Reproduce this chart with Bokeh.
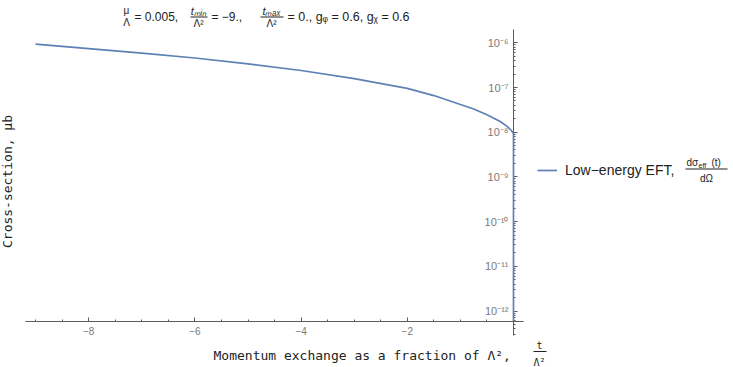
import numpy as np
from bokeh.plotting import figure
from bokeh.models import Range1d, FixedTicker, CustomJSTickFormatter, Label, BoxAnnotation
from bokeh.embed import file_html
from bokeh.resources import INLINE

# ---------------- data ----------------
t_values = [-9.0, -8.0, -7.0, -6.0, -5.0, -4.0, -3.0, -2.0, -1.5, -1.0, -0.75,
            -0.5, -0.25, -0.12, -0.05, 0.0, 0.0]
sigma_values = [9.33e-7, 7.41e-7, 5.89e-7, 4.57e-7, 3.39e-7, 2.40e-7, 1.58e-7,
                9.55e-8, 6.6e-8, 4.17e-8, 3.31e-8, 2.45e-8, 1.74e-8, 1.35e-8,
                1.12e-8, 9.3e-9, 6.0e-13]

x_tick_values = [-8, -6, -4, -2]
x_tick_labels = ["\u22128", "\u22126", "\u22124", "\u22122"]
x_minor_values = [-9.0, -8.5, -7.5, -7.0, -6.5, -5.5, -5.0, -4.5, -3.5, -3.0,
                  -2.5, -1.5, -1.0, -0.5]
y_tick_values = [1e-12, 1e-11, 1e-10, 1e-9, 1e-8, 1e-7, 1e-6]
y_tick_labels = ["10\u207b\u00b9\u00b2", "10\u207b\u00b9\u00b9", "10\u207b\u00b9\u2070",
                 "10\u207b\u2079", "10\u207b\u2078", "10\u207b\u2077", "10\u207b\u2076"]

series_label = "Low\u2212energy EFT,"

# ---------------- layout (pixels of the 733x367 canvas) ----------------
W, H = 733, 367
X0_PX, PX_PER_UNIT = 513.0, 53.1          # pixel of t = 0, pixels per unit t
Y6_PX, PX_PER_DEC = 42.3, 44.7            # pixel of 1e-6, pixels per decade


def t_at(px):
    return (px - X0_PX) / PX_PER_UNIT


def s_at(py):
    return 10 ** (-6 - (py - Y6_PX) / PX_PER_DEC)


y_lo, y_hi = s_at(335), s_at(29.3)
y_minor_values = [m * 10.0 ** k for k in range(-13, -5) for m in range(2, 10)
                  if y_lo <= m * 10.0 ** k <= y_hi]

p = figure(width=W, height=H, output_backend="svg", toolbar_location=None,
           y_axis_type="log",
           x_range=Range1d(t_at(0), t_at(W)), y_range=Range1d(s_at(H), s_at(0)),
           min_border_left=0, min_border_right=0, min_border_top=0,
           min_border_bottom=0)
p.title.visible = False
p.grid.visible = False
p.outline_line_color = None
p.background_fill_color = "white"
p.border_fill_color = "white"

AXC = "#5c5c5c"
TLC = "#7a7a7a"

xa = p.xaxis[0]
xa.fixed_location = s_at(320.5)
xa.bounds = (t_at(25), t_at(523))
xa.ticker = FixedTicker(ticks=x_tick_values, minor_ticks=x_minor_values)
xa.formatter = CustomJSTickFormatter(
    args=dict(vals=x_tick_values, labs=x_tick_labels),
    code="const i = vals.findIndex(v => Math.abs(v - tick) < 1e-9); return i < 0 ? '' : labs[i];")
xa.major_tick_in = 4
xa.major_tick_out = 0
xa.minor_tick_in = 2
xa.minor_tick_out = 0
xa.axis_line_color = AXC
xa.major_tick_line_color = AXC
xa.minor_tick_line_color = AXC
xa.major_label_standoff = 6
xa.major_label_text_font = "Liberation Sans"
xa.major_label_text_font_size = "10px"
xa.major_label_text_color = TLC

ya = p.yaxis[0]
ya.fixed_location = 0
ya.bounds = (y_lo, y_hi)
ya.ticker = FixedTicker(ticks=y_tick_values, minor_ticks=y_minor_values)
ya.formatter = CustomJSTickFormatter(
    args=dict(vals=y_tick_values, labs=y_tick_labels),
    code="const i = vals.findIndex(v => Math.abs(Math.log10(v) - Math.log10(tick)) < 1e-6); return i < 0 ? '' : labs[i];")
ya.major_tick_in = 4
ya.major_tick_out = 0
ya.minor_tick_in = 2
ya.minor_tick_out = 0
ya.axis_line_color = AXC
ya.major_tick_line_color = AXC
ya.minor_tick_line_color = AXC
ya.major_label_standoff = 5
ya.major_label_text_font = "Liberation Sans"
ya.major_label_text_font_size = "11px"
ya.major_label_text_color = TLC

r = p.line(t_values, sigma_values, line_color="#5E81B5", line_width=1.7,
           legend_label=series_label)
r.level = "overlay"

lg = p.legend[0]
lg.location = (537, H - 178)
lg.padding = 0
lg.margin = 0
lg.spacing = 0
lg.border_line_color = None
lg.background_fill_alpha = 0
lg.glyph_width = 20
lg.glyph_height = 16
lg.label_height = 16
lg.label_standoff = 8
lg.label_text_font = "Liberation Sans"
lg.label_text_font_size = "14px"
lg.label_text_color = "#222222"


def txt(X, Y, s, size="12px", font="Liberation Sans", align="left", style="normal",
        color="#222222", angle=0.0):
    p.add_layout(Label(x=X, y=H - Y, x_units="screen", y_units="screen", text=s,
                       text_font=font, text_font_size=size, text_align=align,
                       text_baseline="middle", text_font_style=style,
                       text_color=color, angle=angle))


def bar(Xa, Xb, Y):
    p.add_layout(BoxAnnotation(left=Xa, right=Xb, top=H - Y + 0.5,
                               bottom=H - Y - 0.5, left_units="screen",
                               right_units="screen", top_units="screen",
                               bottom_units="screen", fill_color="#222222",
                               fill_alpha=1, line_color=None))


# title (plot label)
txt(126, 10, "\u03bc", size="10px", align="center")
txt(126, 22, "\u039b", size="10px", align="center")
txt(134, 16, "= 0.005,")
txt(198, 10, "t\u2098\u1d62\u2099", size="11px", align="center", style="italic")
bar(190, 207, 16.5)
txt(198, 23, "\u039b\u00b2", size="10px", align="center")
txt(211, 16, "= \u22129.,")
txt(271, 10, "t\u2098\u2090\u2093", size="11px", align="center", style="italic")
bar(260, 283, 16.5)
txt(271, 23, "\u039b\u00b2", size="10px", align="center")
txt(287, 16, "= 0., g\u1d69 = 0.6, g\u1d6a = 0.6", size="12.5px")

# axis labels
txt(213, 355, "Momentum exchange as a fraction of \u039b\u00b2,", size="13px",
    font="DejaVu Sans Mono")
txt(539, 345, "t", size="10px", font="DejaVu Sans Mono", align="center")
bar(533, 546, 351)
txt(539, 362, "\u039b\u00b2", size="10px", font="DejaVu Sans Mono", align="center")
txt(7, 181, "Cross-section, \u03bcb", size="13px", font="DejaVu Sans Mono",
    align="center", angle=np.pi / 2)

# legend fraction
txt(686, 162, "d\u03c3", size="10px")
txt(698, 165, "eff", size="7px")
txt(711, 162, "(t)", size="10px")
bar(685, 727, 168.5)
txt(706, 178, "d\u03a9", size="10px", align="center")

open("out.html", "w").write(file_html(p, INLINE))
